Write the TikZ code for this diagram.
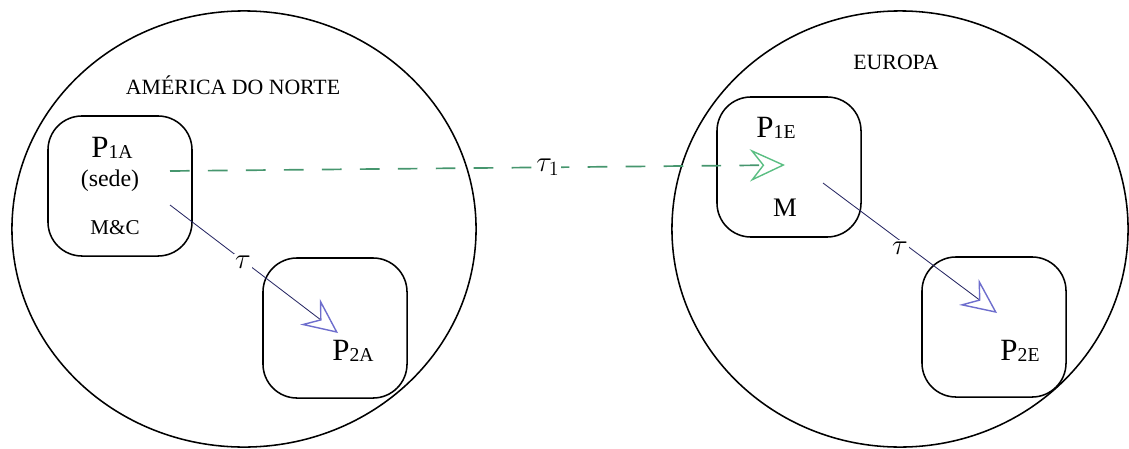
\documentclass[tikz,border=0pt]{standalone}
\usepackage{fontspec}
\setmainfont{Liberation Serif}
\usetikzlibrary{arrows.meta,shapes.geometric}
\definecolor{dashgreen}{RGB}{70,150,110}
\definecolor{tipgreen}{RGB}{90,190,130}
\definecolor{tipblue}{RGB}{110,110,205}
\definecolor{lineblue}{RGB}{40,40,100}
\newcommand{\plname}[1]{{\fontsize{22}{22}\selectfont P}\raisebox{-1pt}{\fontsize{14}{14}\selectfont #1}}

\begin{document}
\begin{tikzpicture}[x=0.025cm,y=-0.025cm,
    region/.style={draw,ellipse,line width=1.1pt,inner sep=0pt,minimum height=10.9cm},
    plantbox/.style={draw,line width=1.1pt,rounded corners=0.85cm,inner sep=0pt,minimum width=3.6cm,minimum height=3.5cm},
    flow/.style={draw=lineblue,line width=0.6pt,-{Stealth[open,length=25pt,width=23pt,inset=9pt,line width=1pt,color=tipblue]}},
    export/.style={draw=dashgreen,line width=1.2pt,dash pattern=on 14pt off 13pt,-{Stealth[open,length=25pt,width=23pt,inset=9pt,line width=1pt,color=tipgreen]}},
    rate/.style={fill=white,inner sep=1pt,font=\fontsize{22}{22}\selectfont}]
    \useasboundingbox (0,0) rectangle (1129,448);
    \node[region,minimum width=11.6cm] (amer) at (244,229) {};
    \node[region,minimum width=11.4cm] (euro) at (900,229) {};
    \node (amerlab) at (233,85) {\fontsize{15.5}{15.5}\selectfont AMÉRICA DO NORTE};
    \node (eurolab) at (896,62) {\fontsize{15.5}{15.5}\selectfont EUROPA};
    \node[plantbox] (boxoneA) at (120,186) {};
    \node[plantbox] (boxtwoA) at (335,328) {};
    \node[plantbox] (boxoneE) at (789,167) {};
    \node[plantbox] (boxtwoE) at (994,327) {};
    \node[anchor=base] (poneA) at (112,157) {\plname{1A}};
    \node (sede) at (110,181) {\fontsize{17}{17}\selectfont (sede)};
    \node (mc) at (115,228) {\fontsize{15}{15}\selectfont M\&C};
    \node[anchor=base] (ptwoA) at (353,360) {\plname{2A}};
    \node[anchor=base] (poneE) at (776,137) {\plname{1E}};
    \node (m) at (785,208) {\fontsize{19}{19}\selectfont M};
    \node[anchor=base] (ptwoE) at (1020,360) {\plname{2E}};
    \coordinate (exstart) at (170,171);
    \coordinate (exend) at (785,165);
    \coordinate (astart) at (170,205);
    \coordinate (aend) at (338,333);
    \coordinate (estart) at (823,183);
    \coordinate (eend) at (997,313);
    \draw[export] (exstart) -- (exend);
    \draw[flow] (astart) -- (aend);
    \draw[flow] (estart) -- (eend);
    \node[rate] (tauone) at (548,167) {$\tau_1$};
    \node[rate] (tauA) at (243,262) {$\tau$};
    \node[rate] (tauE) at (900,248) {$\tau$};
\end{tikzpicture}
\end{document}
